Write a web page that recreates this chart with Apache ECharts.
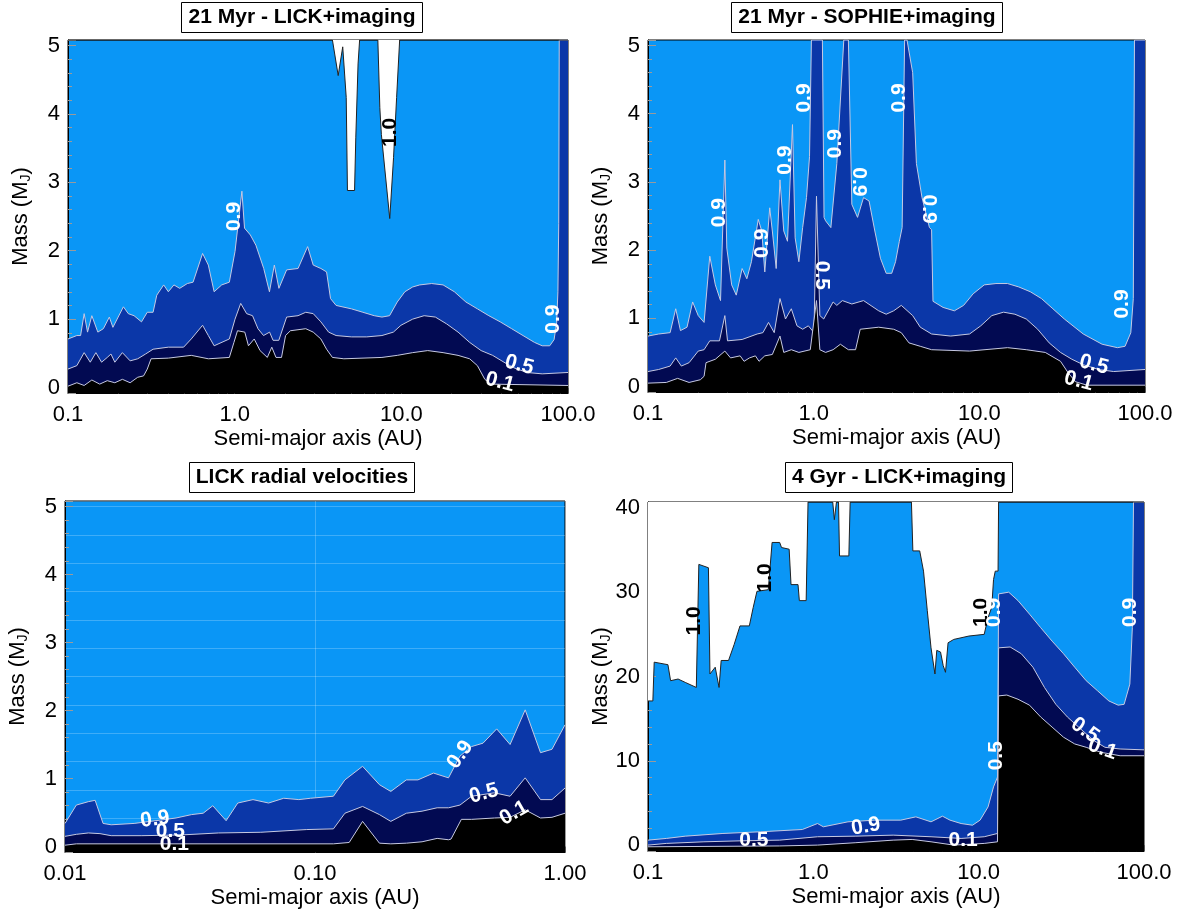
<!DOCTYPE html>
<html><head><meta charset="utf-8">
<script src="https://cdn.jsdelivr.net/npm/echarts@6.0.0/dist/echarts.min.js"></script>
<style>html,body{margin:0;padding:0;background:#fff}#c{width:1184px;height:917px}</style>
</head><body><div id="c"></div>
<script>
// ---------- DATA (semi-major axis in AU, mass in M_J) ----------
// Panel 1: 21 Myr - LICK+imaging
const tl09 = [[0.100,0.71],[0.113,0.76],[0.119,0.76],[0.125,1.08],[0.131,0.81],[0.139,1.05],[0.151,0.81],[0.163,0.86],[0.177,1.03],[0.186,0.88],[0.215,1.18],[0.230,1.08],[0.249,1.05],[0.276,0.96],[0.299,1.10],[0.324,1.10],[0.341,1.35],[0.375,1.50],[0.400,1.40],[0.432,1.50],[0.468,1.45],[0.520,1.52],[0.563,1.54],[0.642,1.96],[0.695,1.79],[0.753,1.40],[0.836,1.50],[0.929,1.54],[1.005,1.99],[1.105,2.87],[1.146,2.33],[1.242,2.23],[1.341,2.08],[1.494,1.74],[1.617,1.40],[1.730,1.79],[1.843,1.45],[2.05,1.72],[2.40,1.74],[2.74,2.06],[2.96,1.79],[3.29,1.74],[3.56,1.69],[3.76,1.30],[4.06,1.20],[5.02,1.15],[5.88,1.10],[6.88,1.05],[7.65,1.03],[8.50,1.05],[9.45,1.25],[10.5,1.40],[11.7,1.47],[12.9,1.50],[15.2,1.52],[17.8,1.50],[20.8,1.40],[24.4,1.25],[28.6,1.15],[33.5,1.05],[39.2,0.96],[45.9,0.86],[53.7,0.76],[62.9,0.66],[70.0,0.61],[77.7,0.61],[82.5,0.70],[85.5,0.95],[87.0,1.40],[88.0,2.40],[88.6,5.08],[100,5.08]];
const tl05 = [[0.100,0.27],[0.113,0.32],[0.125,0.51],[0.136,0.37],[0.147,0.51],[0.159,0.37],[0.172,0.44],[0.181,0.49],[0.191,0.37],[0.212,0.51],[0.236,0.39],[0.262,0.42],[0.292,0.49],[0.324,0.56],[0.400,0.59],[0.494,0.59],[0.549,0.71],[0.642,0.91],[0.695,0.76],[0.753,0.61],[0.929,0.71],[1.005,1.00],[1.087,1.23],[1.18,1.08],[1.28,1.05],[1.38,0.86],[1.49,0.76],[1.62,0.81],[1.70,0.69],[1.84,0.69],[2.05,1.03],[2.40,1.05],[2.67,1.10],[2.96,1.08],[3.29,0.96],[3.66,0.81],[4.06,0.76],[5.02,0.74],[6.20,0.74],[7.65,0.76],[8.96,0.81],[9.95,0.91],[11.7,1.00],[13.7,1.05],[16.0,1.03],[18.7,0.93],[21.9,0.81],[25.7,0.66],[30.1,0.54],[35.3,0.47],[41.3,0.37],[47.2,0.29],[56.6,0.22],[70.0,0.20],[100,0.22]];
const tl01 = [[0.100,0.02],[0.113,0.07],[0.125,0.03],[0.139,0.11],[0.155,0.05],[0.172,0.10],[0.191,0.07],[0.212,0.12],[0.236,0.07],[0.262,0.15],[0.284,0.17],[0.299,0.27],[0.315,0.42],[0.400,0.43],[0.549,0.47],[0.695,0.42],[0.929,0.44],[0.990,0.66],[1.04,0.83],[1.15,0.81],[1.21,0.61],[1.31,0.71],[1.42,0.54],[1.57,0.44],[1.67,0.59],[1.77,0.44],[1.91,0.44],[2.02,0.76],[2.16,0.83],[2.67,0.86],[2.96,0.81],[3.29,0.71],[3.56,0.56],[3.86,0.44],[4.52,0.42],[7.65,0.44],[9.45,0.47],[11.7,0.51],[14.4,0.54],[17.8,0.51],[21.9,0.47],[25.7,0.42],[28.6,0.32],[31.7,0.12],[34.4,0.05],[100,0.03]];
const tl10 = [[0.1,5.08],[3.86,5.08],[4.18,4.56],[4.45,4.98],[4.67,4.24],[4.75,2.88],[5.24,2.88],[5.33,3.65],[5.50,4.73],[5.62,5.08],[7.23,5.08],[7.43,4.09],[7.59,3.70],[8.52,2.47],[8.98,3.36],[9.37,4.24],[9.77,5.08],[100,5.08]];
const tlLabels = [[1.0,2.5,'0.9',90,'#fff'],[8.6,3.73,'1.0',90,'#000'],[82,1.0,'0.9',90,'#fff'],[51,0.33,'0.5',-15,'#fff'],[39,0.08,'0.1',-15,'#fff']];

// Panel 2: 21 Myr - SOPHIE+imaging
const tr09 = [[0.100,0.74],[0.116,0.77],[0.136,0.79],[0.147,1.14],[0.157,0.82],[0.172,0.87],[0.186,1.24],[0.201,1.04],[0.218,0.94],[0.236,1.91],[0.255,1.49],[0.274,1.26],[0.291,3.32],[0.299,2.03],[0.320,1.49],[0.341,1.34],[0.370,1.73],[0.395,1.58],[0.421,1.83],[0.463,2.45],[0.486,2.28],[0.507,1.68],[0.543,2.62],[0.563,2.28],[0.594,1.73],[0.626,3.03],[0.660,2.28],[0.695,2.13],[0.745,3.84],[0.773,2.18],[0.814,1.83],[0.858,2.33],[0.905,2.77],[0.944,3.37],[0.969,5.08],[1.129,5.08],[1.155,2.48],[1.18,2.43],[1.27,2.33],[1.38,3.27],[1.52,5.08],[1.62,5.08],[1.70,2.67],[1.84,2.48],[2.00,2.77],[2.16,2.72],[2.34,2.28],[2.53,1.88],[2.74,1.66],[2.96,1.66],[3.12,1.83],[3.29,2.13],[3.42,2.33],[3.54,5.08],[3.66,5.08],[3.96,4.60],[4.17,3.27],[4.51,2.77],[5.00,2.33],[5.15,2.30],[5.25,1.25],[6.04,1.16],[7.07,1.11],[8.04,1.19],[9.18,1.36],[10.7,1.49],[12.6,1.51],[14.8,1.51],[17.3,1.46],[20.3,1.39],[23.7,1.29],[27.8,1.14],[32.6,0.99],[42.4,0.77],[55.1,0.62],[68.2,0.57],[75.8,0.59],[82.1,0.79],[85.0,1.29],[86.4,5.08],[100,5.08]];
const tr05 = [[0.100,0.22],[0.116,0.25],[0.136,0.30],[0.147,0.42],[0.159,0.30],[0.177,0.35],[0.201,0.52],[0.218,0.54],[0.236,0.67],[0.270,0.67],[0.291,1.04],[0.302,0.67],[0.370,0.69],[0.456,0.77],[0.494,0.79],[0.534,0.94],[0.578,0.79],[0.626,1.29],[0.676,0.99],[0.733,1.14],[0.793,0.89],[0.858,0.84],[0.929,0.89],[1.005,0.79],[1.04,2.79],[1.09,1.04],[1.15,0.99],[1.31,1.24],[1.38,1.19],[1.49,1.26],[1.70,1.21],[2.00,1.26],[2.47,1.11],[2.74,1.06],[3.04,1.11],[3.38,1.19],[3.96,1.04],[4.40,0.87],[5.15,0.77],[6.71,0.74],[8.73,0.77],[10.2,0.89],[11.9,1.04],[14.0,1.09],[16.4,1.06],[19.2,0.99],[22.5,0.84],[26.4,0.64],[30.9,0.50],[36.2,0.40],[42.4,0.32],[52.4,0.25],[64.7,0.22],[100,0.25]];
const tr01 = [[0.100,0.05],[0.129,0.06],[0.151,0.12],[0.177,0.06],[0.207,0.10],[0.218,0.15],[0.224,0.35],[0.255,0.40],[0.291,0.52],[0.315,0.42],[0.360,0.45],[0.380,0.37],[0.410,0.42],[0.445,0.45],[0.468,0.37],[0.507,0.45],[0.563,0.47],[0.626,0.74],[0.660,0.50],[0.733,0.54],[0.814,0.50],[0.954,0.54],[1.04,1.26],[1.09,0.54],[1.18,0.50],[1.31,0.54],[1.45,0.62],[1.62,0.54],[1.79,0.54],[1.91,0.84],[2.47,0.87],[3.04,0.84],[3.38,0.79],[3.76,0.64],[4.40,0.59],[5.15,0.54],[8.73,0.52],[14.8,0.57],[19.2,0.54],[25.0,0.50],[30.9,0.37],[34.4,0.20],[38.1,0.07],[44.7,0.02],[100,0.02]];
const trLabels = [[0.269,2.55,'0.9',90,'#fff'],[0.492,2.10,'0.9',90,'#fff'],[0.675,3.32,'0.9',90,'#fff'],[0.878,4.23,'0.9',90,'#fff'],[1.34,3.56,'0.9',90,'#fff'],[1.88,3.0,'0.9',-90,'#fff'],[3.27,4.23,'0.9',90,'#fff'],[4.98,2.6,'0.9',-90,'#fff'],[72.9,1.21,'0.9',90,'#fff'],[1.12,1.63,'0.5',-90,'#fff'],[49.1,0.32,'0.5',-15,'#fff'],[39.8,0.08,'0.1',-15,'#fff']];

// Panel 3: LICK radial velocities
const bl09 = [[0.0100,0.34],[0.0111,0.61],[0.0124,0.66],[0.0132,0.68],[0.0142,0.34],[0.0153,0.32],[0.0189,0.34],[0.0242,0.39],[0.0278,0.42],[0.0321,0.47],[0.0357,0.49],[0.0390,0.60],[0.0441,0.38],[0.0491,0.64],[0.0565,0.69],[0.0652,0.64],[0.0750,0.71],[0.0862,0.69],[0.0959,0.71],[0.1185,0.74],[0.1317,0.98],[0.155,1.18],[0.181,0.91],[0.201,0.81],[0.232,0.98],[0.258,0.98],[0.298,1.08],[0.342,1.01],[0.380,1.33],[0.423,1.47],[0.470,1.52],[0.533,1.73],[0.603,1.50],[0.693,2.01],[0.798,1.38],[0.887,1.43],[1.00,1.79]];
const bl05 = [[0.0100,0.15],[0.0111,0.18],[0.0124,0.20],[0.0138,0.19],[0.0153,0.16],[0.0203,0.16],[0.0289,0.17],[0.0411,0.20],[0.0607,0.21],[0.0927,0.25],[0.1185,0.26],[0.1317,0.49],[0.155,0.59],[0.181,0.47],[0.201,0.37],[0.232,0.49],[0.268,0.52],[0.308,0.57],[0.342,0.57],[0.380,0.61],[0.423,0.74],[0.522,0.79],[0.603,0.74],[0.693,1.01],[0.798,0.69],[0.887,0.69],[1.00,0.86]];
const bl01 = [[0.0100,0.02],[0.0111,0.04],[0.0300,0.04],[0.1185,0.04],[0.137,0.06],[0.155,0.37],[0.181,0.05],[0.201,0.04],[0.232,0.05],[0.268,0.07],[0.308,0.12],[0.342,0.10],[0.350,0.11],[0.385,0.40],[0.423,0.40],[0.522,0.42],[0.603,0.43],[0.693,0.54],[0.798,0.42],[0.887,0.43],[1.00,0.49]];
const blLabels = [[0.0229,0.40,'0.9',8,'#fff'],[0.0264,0.22,'0.5',0,'#fff'],[0.0274,0.03,'0.1',0,'#fff'],[0.381,1.35,'0.9',55,'#fff'],[0.474,0.78,'0.5',15,'#fff'],[0.625,0.49,'0.1',30,'#fff']];

// Panel 4: 4 Gyr - LICK+imaging
const br10 = [[0.100,17.1],[0.107,17.1],[0.109,21.7],[0.132,21.4],[0.137,19.5],[0.152,19.7],[0.168,19.3],[0.196,18.7],[0.203,33.3],[0.232,32.9],[0.237,20.3],[0.255,21.1],[0.269,18.7],[0.277,21.9],[0.307,21.9],[0.332,23.8],[0.360,26.0],[0.410,26.0],[0.433,28.2],[0.456,30.1],[0.534,30.3],[0.563,35.9],[0.626,35.9],[0.642,35.3],[0.714,35.1],[0.733,30.9],[0.808,30.9],[0.823,29.0],[0.905,29.0],[0.929,40.7],[1.31,40.7],[1.34,38.6],[1.38,40.7],[1.42,40.7],[1.44,34.3],[1.64,34.3],[1.67,40.7],[3.92,40.7],[4.00,34.9],[4.40,34.9],[4.64,32.5],[4.89,27.8],[5.15,23.4],[5.44,20.3],[5.58,23.1],[5.88,22.9],[6.10,21.3],[6.30,20.5],[6.53,24.0],[7.07,24.4],[8.73,24.8],[10.8,25.0],[11.4,27.0],[12.0,28.2],[12.3,31.5],[12.6,32.5],[13.1,32.5],[13.2,40.7],[100,40.7]];
const br09 = [[0.100,0.59],[0.129,0.79],[0.168,1.06],[0.284,1.38],[0.481,1.58],[0.858,1.85],[1.06,2.56],[1.15,2.17],[1.62,2.76],[2.34,2.96],[3.38,2.96],[4.17,3.35],[5.15,2.76],[6.04,3.43],[6.71,2.96],[7.83,2.56],[9.18,2.36],[10.2,2.96],[11.4,4.53],[12.3,6.90],[13.0,8.08],[13.2,29.8],[15.2,30.0],[17.3,29.0],[20.3,27.4],[23.7,25.8],[27.8,24.2],[32.6,22.7],[38.1,21.1],[44.7,19.5],[52.4,18.3],[61.3,17.1],[69.8,16.6],[75.8,16.7],[82.1,19.1],[85.0,25.8],[86.4,40.7],[100,40.7]];
const br05 = [[0.100,0.00],[0.129,0.20],[0.218,0.39],[0.370,0.51],[0.626,0.59],[1.06,0.99],[1.79,1.06],[3.04,1.18],[5.15,0.99],[7.83,0.79],[10.8,0.99],[13.0,1.38],[13.2,23.4],[15.5,23.5],[18.1,22.7],[21.3,21.1],[25.0,18.7],[29.3,16.7],[34.4,15.2],[40.2,14.0],[49.7,12.4],[58.1,11.6],[71.7,11.4],[100,11.3]];
const br01 = [[0.100,-0.2],[0.626,-0.1],[1.06,0.0],[1.79,0.28],[3.04,0.59],[3.96,0.67],[5.15,0.39],[7.07,0.0],[10.8,0.20],[13.0,0.39],[13.2,17.7],[14.8,17.8],[17.3,17.3],[20.3,16.6],[23.7,15.2],[27.8,14.0],[32.6,12.8],[38.1,12.0],[44.7,11.6],[55.1,11.0],[71.7,10.6],[100,10.6]];
const brLabels = [[0.191,26.6,'1.0',90,'#000'],[0.512,31.7,'1.0',90,'#000'],[10.4,27.6,'1.0',90,'#000'],[12.45,27.6,'0.9',90,'#fff'],[12.8,10.6,'0.5',90,'#fff'],[83,27.6,'0.9',90,'#fff'],[44.0,13.6,'0.5',-35,'#fff'],[56,11.4,'0.1',-20,'#fff'],[2.08,2.2,'0.9',10,'#fff'],[0.437,0.6,'0.5',0,'#fff'],[8.05,0.6,'0.1',0,'#fff']];

const titles = ['21 Myr - LICK+imaging','21 Myr - SOPHIE+imaging','LICK radial velocities','4 Gyr - LICK+imaging'];
const xName = 'Semi-major axis (AU)';
const yName = 'Mass (M{s|J})';

// ---------- LAYOUT / STYLE ----------
const FONT = '"Liberation Sans", Arial, Helvetica, sans-serif';
const COL = {light:'#0a96f6', mid:'#0b37a8', navy:'#020a52', black:'#000000', line:'#c6c9e2', edge:'#222222'};
const panels = [
  {grid:{left:68, top:40, width:500, height:353}, x:[0.1,100], dec:1, y:[-0.08,5.08], tx:302, ty:2, c09:tl09, c05:tl05, c01:tl01, c10:tl10, labels:tlLabels},
  {grid:{left:648, top:40, width:497, height:352}, x:[0.1,100], dec:1, y:[-0.08,5.08], tx:867, ty:2, c09:tr09, c05:tr05, c01:tr01, c10:null, labels:trLabels},
  {grid:{left:65, top:501, width:500, height:351}, x:[0.01,1], dec:2, y:[-0.08,5.08], tx:302, ty:462, c09:bl09, c05:bl05, c01:bl01, c10:null, labels:blLabels, faint:true},
  {grid:{left:648, top:502, width:496, height:349}, x:[0.1,100], dec:1, y:[-0.7,40.7], tx:899, ty:462, c09:br09, c05:br05, c01:br01, c10:br10, labels:brLabels}
];

function logTicks(lo, hi) {
  const out = [];
  for (let d = lo; d < hi * 0.999; d *= 10) {
    for (let k = 1; k <= 9; k++) out.push(+(k * d).toPrecision(3));
  }
  out.push(hi);
  return out;
}

const grids = [], xAxes = [], yAxes = [], series = [], titleOpts = [];
const TICK = '#9a9a9a';
panels.forEach((p, i) => {
  grids.push(Object.assign({show:true, backgroundColor:COL.light, borderColor:'#000', borderWidth:1, containLabel:false, outerBoundsMode:'none'}, p.grid));
  titleOpts.push({text:titles[i], left:p.tx - 7, top:p.ty, textAlign:'center', padding:[5,7], borderColor:'#000', borderWidth:1, backgroundColor:'#fff',
    textStyle:{fontSize:21, fontWeight:'bold', color:'#000', fontFamily:FONT}});
  xAxes.push({type:'log', logBase:10, gridIndex:i, min:p.x[0], max:p.x[1], position:'bottom',
    axisLine:{show:true, onZero:false, lineStyle:{color:'#000', width:1}},
    axisTick:{show:true, inside:true, length:6, customValues:logTicks(p.x[0], p.x[1]), lineStyle:{color:TICK}},
    axisLabel:{fontSize:22, color:'#000', margin:11, fontFamily:FONT, formatter:(v)=>Number(v).toFixed(p.dec)},
    splitLine:{show:false},
    name:xName, nameLocation:'middle', nameGap:35, nameMoveOverlap:false, nameTextStyle:{fontSize:22, color:'#000', fontFamily:FONT}});
  yAxes.push({type:'value', gridIndex:i, min:p.y[0], max:p.y[1], splitNumber:5,
    axisLine:{show:true, onZero:false, lineStyle:{color:'#000', width:1}},
    axisTick:{show:true, inside:true, length:8, lineStyle:{color:TICK}},
    minorTick:{show:true, splitNumber:5, length:4, lineStyle:{color:TICK}},
    axisLabel:{fontSize:22, color:'#000', margin:8, fontFamily:FONT,
      formatter:(v)=> Math.abs(v - Math.round(v)) < 1e-6 ? String(Math.round(v)) : ''},
    splitLine:{show:false},
    name:yName, nameLocation:'middle', nameGap:35, nameRotate:90, nameMoveOverlap:false,
    nameTextStyle:{fontSize:22, color:'#000', fontFamily:FONT, rich:{s:{fontSize:14, color:'#000', fontFamily:FONT, verticalAlign:'bottom', padding:[10,0,0,0]}}}});

  const base = {type:'line', xAxisIndex:i, yAxisIndex:i, symbol:'none', showSymbol:false, silent:true, animation:false, smooth:false};
  series.push(Object.assign({}, base, {name:'p'+i+'-0.9', data:p.c09, z:2, lineStyle:{color:COL.line, width:1}, areaStyle:{color:COL.mid, opacity:1, origin:'start'}}));
  series.push(Object.assign({}, base, {name:'p'+i+'-0.5', data:p.c05, z:3, lineStyle:{color:COL.line, width:1}, areaStyle:{color:COL.navy, opacity:1, origin:'start'}}));
  series.push(Object.assign({}, base, {name:'p'+i+'-0.1', data:p.c01, z:4, lineStyle:{color:COL.line, width:1}, areaStyle:{color:COL.black, opacity:1, origin:'start'}}));
  if (p.c10) {
    series.push(Object.assign({}, base, {name:'p'+i+'-1.0', data:p.c10, z:5, lineStyle:{color:COL.edge, width:1}, areaStyle:{color:'#ffffff', opacity:1, origin:'end'}}));
  }
  series.push({type:'scatter', xAxisIndex:i, yAxisIndex:i, silent:true, animation:false, z:10, symbolSize:0.1,
    itemStyle:{color:'rgba(0,0,0,0)', opacity:1},
    label:{show:true, position:'inside', formatter:'{b}', fontSize:21, fontWeight:'bold', fontFamily:FONT, textBorderWidth:0, opacity:1},
    data:p.labels.map(l => ({name:l[2], value:[l[0], l[1]], label:{rotate:l[3], color:l[4]}}))});
});

// top axes with inside ticks (faint major grid only in the radial-velocity panel)
panels.forEach((p, i) => {
  xAxes.push({type:'log', logBase:10, gridIndex:i, min:p.x[0], max:p.x[1], position:'top',
    axisLine:{show:false}, axisLabel:{show:false},
    axisTick: p.faint ? {show:true, inside:true, length:6, lineStyle:{color:'#555'}}
                      : {show:true, inside:true, length:6, customValues:logTicks(p.x[0], p.x[1]), lineStyle:{color:'#555'}},
    splitLine:{show:!!p.faint, lineStyle:{color:'rgba(255,255,255,0.22)', width:1}}});
});
yAxes.push({type:'value', gridIndex:2, min:-0.192, max:12.192, splitNumber:12, position:'right',
  axisLine:{show:false}, axisTick:{show:false}, axisLabel:{show:false},
  splitLine:{show:true, lineStyle:{color:'rgba(255,255,255,0.22)', width:1}}});

const chart = echarts.init(document.getElementById('c'), null, {renderer:'canvas'});
chart.setOption({
  animation:false,
  backgroundColor:'#ffffff',
  textStyle:{fontFamily:FONT},
  title:titleOpts,
  grid:grids, xAxis:xAxes, yAxis:yAxes, series:series
});
</script>
</body></html>
